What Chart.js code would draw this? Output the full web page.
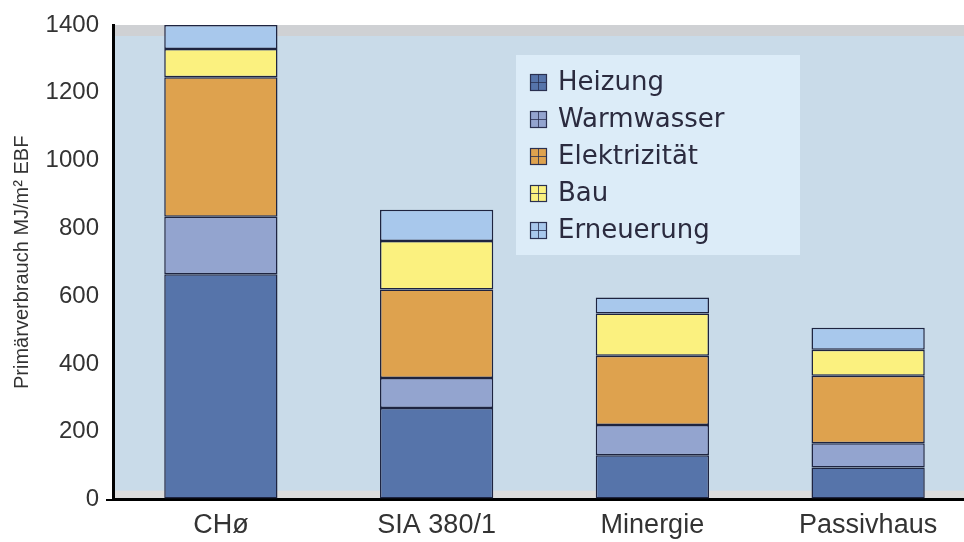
<!DOCTYPE html>
<html>
<head>
<meta charset="utf-8">
<script src="https://cdn.jsdelivr.net/npm/chart.js@4/dist/chart.umd.min.js"></script>
<style>
  html, body { margin: 0; padding: 0; background: #ffffff; overflow: hidden; }
  #wrap { width: 976px; height: 542px; position: relative; }
</style>
</head>
<body>
<div id="wrap"><canvas id="c" width="976" height="542"></canvas></div>
<script>
const categories = ['CHø', 'SIA 380/1', 'Minergie', 'Passivhaus'];
const heizung = [665, 270, 131, 95];
const warmwasser = [169, 89, 89, 71];
const elektrizitaet = [412, 261, 204, 199];
const bau = [83, 143, 125, 77];
const erneuerung = [71, 92, 47, 65];
const seriesNames = ['Heizung', 'Warmwasser', 'Elektrizität', 'Bau', 'Erneuerung'];
const yTicks = [0, 200, 400, 600, 800, 1000, 1200, 1400];

const colors = ['#5674aa', '#93a4cf', '#dea24e', '#fbf17f', '#a8c8ec'];
const seriesData = [heizung, warmwasser, elektrizitaet, bau, erneuerung];

const bgPlugin = {
  id: 'bg',
  beforeDraw(chart) {
    const { ctx, chartArea: a } = chart;
    ctx.save();
    ctx.fillStyle = '#c9dbe9';
    ctx.fillRect(a.left, a.top, a.right - a.left, a.bottom - a.top);
    ctx.fillStyle = '#cfd1d4';
    ctx.fillRect(a.left, a.top, a.right - a.left, 11);
    ctx.fillStyle = '#dcdcdc';
    ctx.fillRect(a.left, a.bottom - 9, a.right - a.left, 9);
    // legend box
    ctx.fillStyle = '#dcecf8';
    ctx.fillRect(516, 55, 284, 200);
    ctx.restore();
  }
};

const legendPlugin = {
  id: 'customLegend',
  afterDatasetsDraw(chart) {
    const { ctx } = chart;
    ctx.save();
    const x0 = 530, y0 = 82, step = 37;
    chart.data.datasets.forEach((ds, i) => {
      const y = y0 + i * step;
      ctx.fillStyle = ds.backgroundColor;
      ctx.fillRect(x0, y - 8, 17, 17);
      ctx.strokeStyle = '#2a3050';
      ctx.lineWidth = 1.2;
      ctx.strokeRect(x0 + 0.5, y - 7.5, 16, 16);
      ctx.beginPath();
      ctx.moveTo(x0, y + 0.5); ctx.lineTo(x0 + 17, y + 0.5);
      ctx.moveTo(x0 + 8.5, y - 8); ctx.lineTo(x0 + 8.5, y + 9);
      ctx.lineWidth = 0.8;
      ctx.stroke();
      ctx.fillStyle = '#2b2b3f';
      ctx.font = '26px "DejaVu Sans", sans-serif';
      ctx.textBaseline = 'middle';
      ctx.textAlign = 'left';
      ctx.fillText(ds.label, 558, y + 1);
    });
    ctx.restore();
  }
};

new Chart(document.getElementById('c'), {
  type: 'bar',
  data: {
    labels: categories,
    datasets: seriesNames.map((name, i) => ({
      label: name,
      data: seriesData[i],
      backgroundColor: colors[i],
      borderColor: '#1e2440',
      borderWidth: 1.5,
      borderSkipped: false,
      barPercentage: 0.525,
      categoryPercentage: 1.0
    }))
  },
  options: {
    responsive: false,
    animation: false,
    layout: { padding: { top: 25, bottom: -10, left: 0, right: 0 } },
    plugins: { legend: { display: false }, tooltip: { enabled: false } },
    scales: {
      x: {
        stacked: true,
        grid: { display: false, drawTicks: false },
        border: { display: true, color: '#000000', width: 3 },
        ticks: {
          color: '#333333',
          padding: 10,
          font: { family: '"Liberation Sans", Arial, sans-serif', size: 27 }
        }
      },
      y: {
        stacked: true,
        min: 0,
        max: 1400,
        afterBuildTicks(scale) { scale.ticks = yTicks.map(v => ({ value: v })); },
        afterFit(scale) { scale.width = 113; },
        grid: {
          drawOnChartArea: false,
          drawTicks: true,
          tickLength: 7,
          lineWidth: 2,
          color: (c) => (c.tick && c.tick.value === 0 ? '#000000' : 'rgba(0,0,0,0)')
        },
        border: { display: true, color: '#000000', width: 3 },
        ticks: {
          color: '#333333',
          padding: 7,
          callback: (v) => String(v),
          font: { family: '"Liberation Sans", Arial, sans-serif', size: 24 }
        },
        title: {
          display: true,
          text: 'Primärverbrauch MJ/m² EBF',
          color: '#333333',
          padding: { top: 10, bottom: 0 },
          font: { family: '"Liberation Sans", Arial, sans-serif', size: 20 }
        }
      }
    }
  },
  plugins: [bgPlugin, legendPlugin]
});
</script>
</body>
</html>
